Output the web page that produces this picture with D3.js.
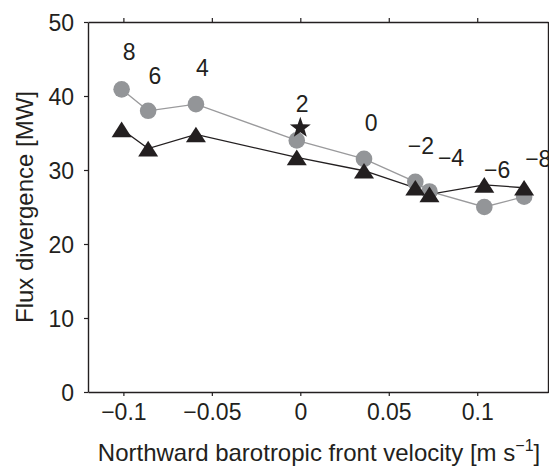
<!DOCTYPE html>
<html>
<head>
<meta charset="utf-8">
<script src="https://cdn.jsdelivr.net/npm/d3@7"></script>
<style>
  html, body { margin: 0; padding: 0; background: #fff; }
  svg { display: block; }
  text { font-family: "Liberation Sans", Arial, Helvetica, sans-serif; fill: #231f20; }
</style>
</head>
<body>
<svg id="chart" width="549" height="468"></svg>
<script>
// ---- data ----
const velocity = [-0.101, -0.086, -0.059, -0.002, 0.036, 0.065, 0.073, 0.104, 0.1265];
const greySeries = [40.9, 38.0, 38.9, 34.0, 31.5, 28.4, 27.1, 25.0, 26.4];
const blackSeries = [35.5, 32.9, 34.8, 31.7, 29.9, 27.6, 26.7, 28.0, 27.6];
const starPoint = [0, 35.7];
const pointLabels = ["8", "6", "4", "2", "0", "\u22122", "\u22124", "\u22126", "\u22128"];
const labelX = [-0.0968, -0.0822, -0.0553, 0.0011, 0.040, 0.0682, 0.0852, 0.1113, 0.1345];
const labelY = [44.8, 41.6, 42.7, 37.9, 35.3, 32.1, 30.5, 28.9, 30.4];
const xTicks = [-0.1, -0.05, 0, 0.05, 0.1];
const xTickLabels = ["\u22120.1", "\u22120.05", "0", "0.05", "0.1"];
const yTicks = [0, 10, 20, 30, 40, 50];
const xDomain = [-0.12, 0.14];
const yDomain = [0, 50];

// ---- layout ----
const L = 88, R = 548, T = 22, B = 392;
const FS_TICK = 23, FS_TITLE = 24, FS_LABEL = 23;
const ink = "#231f20";
const grey = "#939598";

const svg = d3.select("#chart");
const x = d3.scaleLinear().domain(xDomain).range([L, R]);
const y = d3.scaleLinear().domain(yDomain).range([B, T]);

// axes
const fmtX = (d, i) => xTickLabels[i];
const gB = svg.append("g").attr("transform", `translate(0,${B})`)
  .call(d3.axisBottom(x).tickValues(xTicks).tickFormat(fmtX).tickSizeInner(4).tickSizeOuter(0).tickPadding(8));
const gT = svg.append("g").attr("transform", `translate(0,${T})`)
  .call(d3.axisTop(x).tickValues(xTicks).tickFormat("").tickSizeInner(4).tickSizeOuter(0));
const gL = svg.append("g").attr("transform", `translate(${L},0)`)
  .call(d3.axisLeft(y).tickValues(yTicks).tickSizeInner(4).tickSizeOuter(0).tickPadding(10));
const gR = svg.append("g").attr("transform", `translate(${R},0)`)
  .call(d3.axisRight(y).tickValues(yTicks).tickFormat("").tickSizeInner(4).tickSizeOuter(0));

[gB, gT, gL, gR].forEach(g => {
  g.select(".domain").attr("stroke", ink).attr("stroke-width", 1.4);
  g.selectAll(".tick line").attr("stroke", ink).attr("stroke-width", 1.2);
  g.selectAll(".tick text").attr("fill", ink).style("font-size", FS_TICK + "px")
    .style("font-family", '"Liberation Sans", Arial, sans-serif');
});
gL.selectAll(".tick text").attr("dy", "0.36em");

// series lines
const gLine = d3.line().x((d, i) => x(velocity[i])).y(d => y(d));
svg.append("path").datum(greySeries).attr("d", gLine)
  .attr("fill", "none").attr("stroke", "#9a9a9c").attr("stroke-width", 1.3);
svg.append("path").datum(blackSeries).attr("d", gLine)
  .attr("fill", "none").attr("stroke", ink).attr("stroke-width", 1.3);

// grey circles
svg.append("g").selectAll("circle").data(greySeries).join("circle")
  .attr("cx", (d, i) => x(velocity[i])).attr("cy", d => y(d))
  .attr("r", 8.3).attr("fill", grey);

// black triangles (bbox centered)
const tw = 20, th = 15.7;
svg.append("g").selectAll("path").data(blackSeries).join("path")
  .attr("transform", (d, i) => `translate(${x(velocity[i])},${y(d)})`)
  .attr("d", `M0,${-th/2} L${tw/2},${th/2} L${-tw/2},${th/2} Z`)
  .attr("fill", ink);

// star
const Rs = 11, rs = Rs * 0.4;
const starPts = d3.range(10).map(k => {
  const a = -Math.PI / 2 + k * Math.PI / 5;
  const rr = k % 2 === 0 ? Rs : rs;
  return [rr * Math.cos(a), rr * Math.sin(a)];
});
svg.append("path")
  .attr("transform", `translate(${x(starPoint[0])},${y(starPoint[1])})`)
  .attr("d", "M" + starPts.map(p => p.join(",")).join("L") + "Z")
  .attr("fill", ink);

// point labels
svg.append("g").selectAll("text").data(pointLabels).join("text")
  .attr("x", (d, i) => x(labelX[i])).attr("y", (d, i) => y(labelY[i]))
  .attr("text-anchor", "middle").style("font-size", FS_LABEL + "px").text(d => d);

// axis titles
const xt = svg.append("text").attr("x", 319).attr("y", 461)
  .attr("text-anchor", "middle").style("font-size", FS_TITLE + "px");
xt.append("tspan").text("Northward barotropic front velocity [m s");
xt.append("tspan").attr("dy", -10).style("font-size", "16px").text("\u22121");
xt.append("tspan").attr("dy", 10).text("]");

svg.append("text")
  .attr("transform", `translate(33,${(T + B) / 2}) rotate(-90)`)
  .attr("text-anchor", "middle").style("font-size", FS_TITLE + "px")
  .text("Flux divergence [MW]");
</script>
</body>
</html>
